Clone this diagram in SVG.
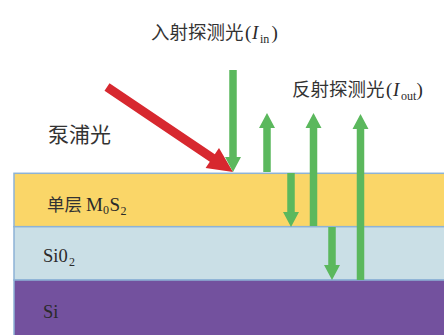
<svg xmlns="http://www.w3.org/2000/svg" width="444" height="335" viewBox="0 0 444 335">
<style>
.layer{stroke:#8db3d6;stroke-width:1.5}
.cjk{font-family:"Noto Sans CJK SC","Noto Sans",sans-serif;fill:#333333}
.ser{font-family:"Liberation Serif","Times New Roman",serif;fill:#2a2a2a}
.it{font-style:italic}
.g{fill:#5bb85d}
.r{fill:#d7282f}
</style>
<rect width="444" height="335" fill="#ffffff"/>
<g id="layer-mos2">
<rect class="layer" x="14" y="173.3" width="440" height="53.4" fill="#fad668"/>
<text x="47" y="211" class="cjk" font-size="17.5">单层</text>
<text y="211" class="ser" font-size="19"><tspan x="86">M</tspan><tspan x="103" y="214" font-size="12">0</tspan><tspan x="109.5" y="211">S</tspan><tspan x="120.5" y="214.5" font-size="12">2</tspan></text>
</g>
<g id="layer-sio2">
<rect class="layer" x="14" y="226.7" width="440" height="53.3" fill="#cadfe6"/>
<text y="262" class="ser" font-size="18.5"><tspan x="43">Si0</tspan><tspan x="69" y="266" font-size="12">2</tspan></text>
</g>
<g id="layer-si">
<rect class="layer" x="14" y="280" width="440" height="60" fill="#73519e"/>
<text x="43" y="318" class="ser" font-size="18.5">Si</text>
</g>
<g id="label-in">
<text x="151" y="39" class="cjk" font-size="18.5">入射探测光</text>
<text y="39" class="ser" font-size="19"><tspan x="245">(</tspan><tspan x="252" class="it">I</tspan><tspan x="260" y="43" font-size="12">in</tspan><tspan x="271.5" y="39">)</tspan></text>
</g>
<g id="label-out">
<text x="292" y="96" class="cjk" font-size="18.5">反射探测光</text>
<text y="96" class="ser" font-size="19"><tspan x="386">(</tspan><tspan x="393" class="it">I</tspan><tspan x="401" y="100" font-size="12">out</tspan><tspan x="416.5" y="96">)</tspan></text>
</g>
<g id="label-pump">
<text x="48" y="142" class="cjk" font-size="21">泵浦光</text>
</g>
<g id="connectors">
<polygon class="r" points="109.5,83.3 214.8,154.3 219,148.1 233,172 205.6,167.9 209.8,161.7 104.5,90.7"/>
<path class="g" d="M229.25,70 H236.75 V157 H241 L233,172 L225,157 H229.25 Z"/>
<path class="g" d="M263.25,172 V128 H259 L267,113 L275,128 H270.75 V172 Z"/>
<path class="g" d="M287.25,173 H294.75 V212 H299 L291,227 L283,212 H287.25 Z"/>
<path class="g" d="M309.75,226 V128 H305.5 L313.5,113 L321.5,128 H317.25 V226 Z"/>
<path class="g" d="M328.25,227 H335.75 V265 H340 L332,280 L324,265 H328.25 Z"/>
<path class="g" d="M356.75,280 V129 H352.5 L360.5,114 L368.5,129 H364.25 V280 Z"/>
</g>
</svg>
